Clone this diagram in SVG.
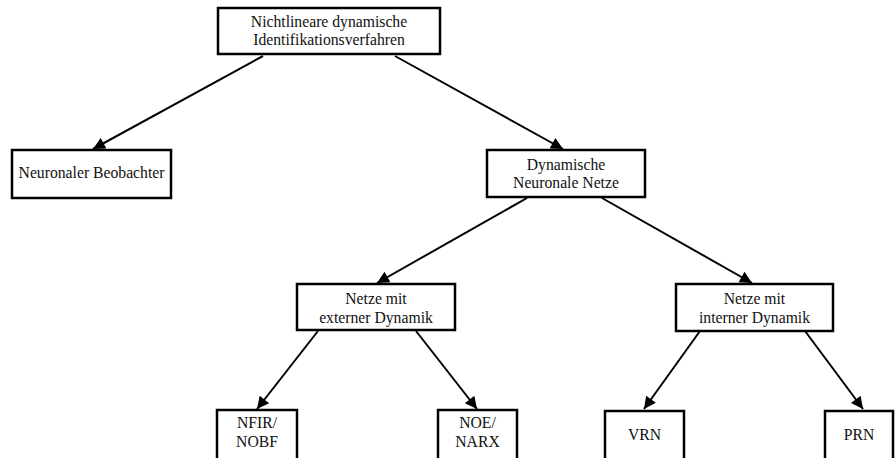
<svg xmlns="http://www.w3.org/2000/svg" width="895" height="458" viewBox="0 0 895 458">
<style>
.box{fill:#fff;stroke:#000;stroke-width:2.5}
.t{font-family:"Liberation Serif","Times New Roman",serif;font-size:15.7px;fill:#111;text-anchor:middle}
.c{stroke:#000;stroke-width:2;fill:none;marker-end:url(#ah)}
</style>
<defs>
<marker id="ah" viewBox="0 0 10 10" refX="10" refY="5" markerWidth="7.5" markerHeight="6" orient="auto" markerUnits="strokeWidth">
<path d="M0,0 L10,5 L0,10 z" fill="#000"/>
</marker>
</defs>
<rect width="895" height="458" fill="#fff"/>
<g id="connectors">
<line class="c" x1="263" y1="56" x2="93" y2="149"/>
<line class="c" x1="395" y1="56" x2="563" y2="149"/>
<line class="c" x1="527" y1="198" x2="377" y2="283"/>
<line class="c" x1="602" y1="198" x2="752" y2="283"/>
<line class="c" x1="318" y1="331" x2="257" y2="409"/>
<line class="c" x1="416" y1="331" x2="477" y2="409"/>
<line class="c" x1="700" y1="331" x2="644" y2="409"/>
<line class="c" x1="805" y1="331" x2="863" y2="409"/>
</g>
<g id="n_root">
<rect class="box" x="218" y="8" width="222" height="46"/>
<text class="t" x="329" y="27">Nichtlineare dynamische</text>
<text class="t" x="329" y="45">Identifikationsverfahren</text>
</g>
<g id="n_beob">
<rect class="box" x="12" y="150" width="159" height="48"/>
<text class="t" x="91.5" y="178">Neuronaler Beobachter</text>
</g>
<g id="n_dnn">
<rect class="box" x="487" y="150" width="158" height="47"/>
<text class="t" x="566" y="170">Dynamische</text>
<text class="t" x="566" y="188">Neuronale Netze</text>
</g>
<g id="n_ext">
<rect class="box" x="297" y="284" width="158" height="46"/>
<text class="t" x="376" y="304">Netze mit</text>
<text class="t" x="376" y="323">externer Dynamik</text>
</g>
<g id="n_int">
<rect class="box" x="676" y="284" width="157" height="47"/>
<text class="t" x="754.5" y="304">Netze mit</text>
<text class="t" x="754.5" y="323">interner Dynamik</text>
</g>
<g id="n_nfir">
<rect class="box" x="217" y="410" width="80" height="60"/>
<text class="t" x="257" y="428">NFIR/</text>
<text class="t" x="257" y="447">NOBF</text>
</g>
<g id="n_noe">
<rect class="box" x="438" y="410" width="79" height="60"/>
<text class="t" x="477.5" y="428">NOE/</text>
<text class="t" x="477.5" y="447">NARX</text>
</g>
<g id="n_vrn">
<rect class="box" x="605" y="411" width="79" height="60"/>
<text class="t" x="644.5" y="440">VRN</text>
</g>
<g id="n_prn">
<rect class="box" x="825" y="411" width="68" height="60"/>
<text class="t" x="859" y="440">PRN</text>
</g>
</svg>
